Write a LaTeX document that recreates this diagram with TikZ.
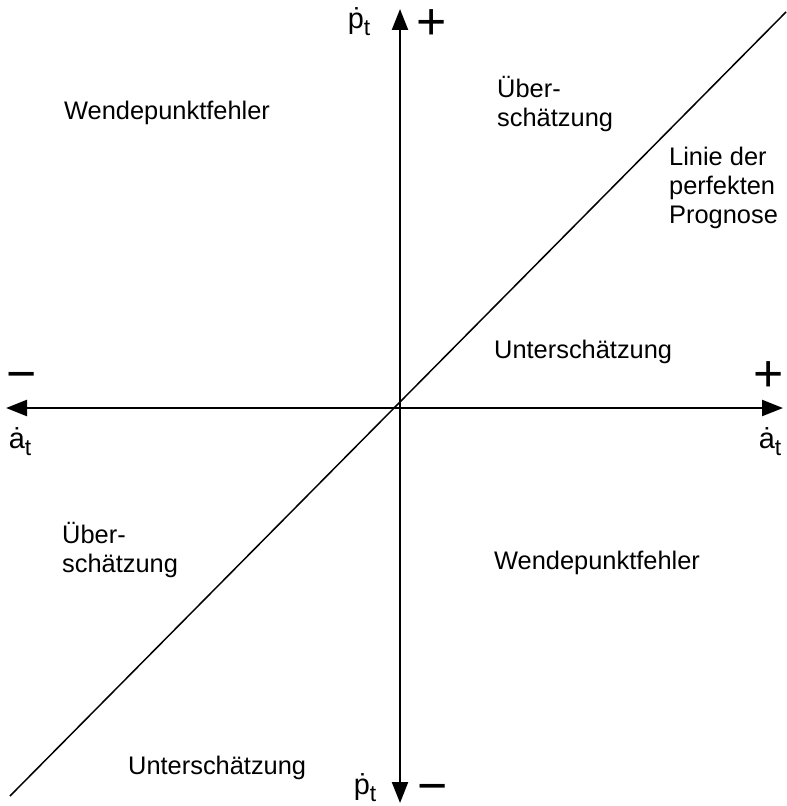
\documentclass[tikz,border=0pt]{standalone}
\usepackage{fontspec}
\setmainfont{Liberation Sans}
\usetikzlibrary{arrows.meta}

\newcommand{\dotsub}[2]{#1\raisebox{-0.45ex}{\fontsize{23}{23}\selectfont #2}}

\begin{document}
\begin{tikzpicture}[x=1bp, y=-1bp,
    axis/.style={{Triangle[length=21bp,width=16bp]}-{Triangle[length=21bp,width=16bp]}, line width=2.4bp},
    ideal/.style={line width=1.5bp},
    lbl/.style={font=\fontsize{25.5}{29.5}\selectfont, inner sep=0pt},
    var/.style={font=\fontsize{29}{29}\selectfont, inner sep=0pt},
    sgn/.style={font=\fontsize{52}{52}\selectfont, inner sep=0pt, text height=36bp, text depth=0pt}
  ]
  \useasboundingbox (0,0) rectangle (787,806);
  \coordinate (O)  at (400,408);
  \coordinate (W)  at (6,408);
  \coordinate (E)  at (783,408);
  \coordinate (N)  at (400,9);
  \coordinate (S)  at (400,803);
  \coordinate (LL) at (10,796);
  \coordinate (UR) at (786,12);

  \draw[ideal] (LL) -- (UR);      % Linie der perfekten Prognose
  \draw[axis] (W) -- (E);
  \draw[axis] (S) -- (N);

  % axis labels
  \node[var] (pTop) at (359,22) {\dotsub{ṗ}{t}};
  \node[sgn] (plusTop) at (432,22) {+};
  \node[var] (pBot) at (365,788) {\dotsub{ṗ}{t}};
  \node[sgn] (minusBot) at (433,785) {−};
  \node[sgn] (minusL) at (22,373) {−};
  \node[sgn] (plusR) at (769,373) {+};
  \node[var] (aL) at (20,442) {\dotsub{ȧ}{t}};
  \node[var] (aR) at (770,442) {\dotsub{ȧ}{t}};

  % quadrant texts
  \node[lbl, anchor=west] (wendeTL) at (64,113) {Wendepunktfehler};
  \node[lbl, anchor=west, align=left] (ueberTR) at (497,104) {Über-\\schätzung};
  \node[lbl, anchor=west, align=left] (linie) at (669,188) {Linie der\\perfekten\\Prognose};
  \node[lbl, anchor=west] (unterR) at (494,352) {Unterschätzung};
  \node[lbl, anchor=west, align=left] (ueberL) at (62,550) {Über-\\schätzung};
  \node[lbl, anchor=west] (wendeBR) at (494,563) {Wendepunktfehler};
  \node[lbl, anchor=west] (unterB) at (128,768) {Unterschätzung};
\end{tikzpicture}
\end{document}
